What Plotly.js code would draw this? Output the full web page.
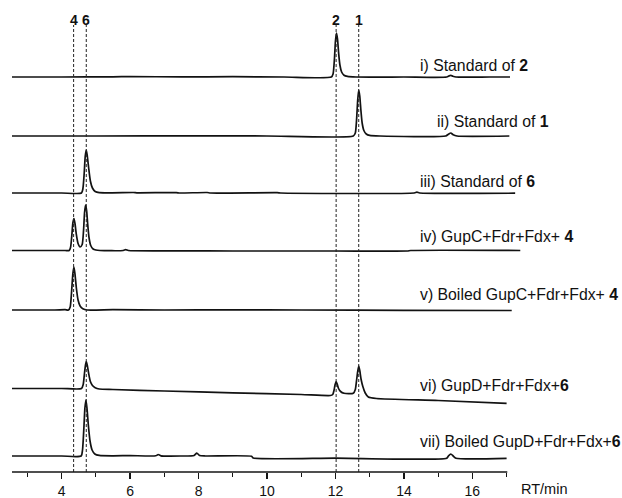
<!DOCTYPE html>
<html>
<head>
<meta charset="utf-8">
<script src="https://cdn.plot.ly/plotly-3.0.1.min.js"></script>
<style>html,body{margin:0;padding:0;background:#fff;}#chart{width:622px;height:498px;}</style>
</head>
<body>
<div id="chart"></div>
<script>
// ---- Data (retention time in min, detector signal in arbitrary units) ----
const rt_i  = [2.55, 4.0, 5.5, 6.0, 7.5, 9.0, 10.5, 11.88, 11.93, 11.97, 12.0, 12.03, 12.06, 12.09, 12.13, 12.18, 12.25, 12.35, 12.6, 14.0, 15.25, 15.32, 15.37, 15.43, 15.52, 16.5, 17.1];
const sig_i = [0, 0, 0.2, 0.4, 0.1, 0.3, 0, 0, 3, 18, 36, 44, 38, 25, 12, 5, 1.8, 0.6, 0, 0, 0, 1.1, 1.6, 0.8, 0, 0, 0];

const rt_ii  = [2.55, 5.0, 8.0, 10.0, 12.52, 12.58, 12.62, 12.65, 12.68, 12.71, 12.74, 12.78, 12.83, 12.9, 13.0, 13.3, 15.22, 15.3, 15.37, 15.44, 15.55, 17.08];
const sig_ii = [0, 0, 0.2, 0, 0, 3, 18, 36, 46, 40, 27, 13, 5.5, 2, 0.6, 0, 0, 1.8, 3, 1.2, 0, 0];

const rt_iii  = [2.55, 4.0, 4.58, 4.62, 4.66, 4.69, 4.72, 4.75, 4.79, 4.84, 4.9, 4.98, 5.1, 6.1, 6.2, 7.35, 7.45, 8.25, 8.35, 10.3, 10.4, 14.3, 14.38, 14.46, 17.25];
const sig_iii = [0, 0, 0, 4, 20, 37, 43, 37, 25, 12, 5, 1.5, 0.3, 0.5, 0.2, 0.4, 0, 0.5, 0, 0.3, 0, 0, 0.8, 0, -0.2];

const rt_iv  = [2.55, 4.1, 4.22, 4.26, 4.3, 4.33, 4.36, 4.39, 4.43, 4.48, 4.54, 4.6, 4.64, 4.67, 4.7, 4.73, 4.76, 4.8, 4.85, 4.92, 5.0, 5.12, 5.8, 5.87, 5.95, 7.5, 9.0, 12.0, 14.1, 14.2, 17.4];
const sig_iv = [0, 0, 0, 3, 16, 28, 32, 27, 16, 7, 3.5, 6, 20, 38, 45.5, 40, 27, 13, 5, 1.5, 0.5, 0, 0, 0.9, 0, -0.3, -0.5, -0.5, -0.5, 0, 0];

const rt_v  = [2.55, 3.8, 4.1, 4.2, 4.25, 4.29, 4.33, 4.36, 4.39, 4.43, 4.48, 4.54, 4.62, 4.75, 5.5, 7.0, 9.0, 11.0, 14.0, 17.15];
const sig_v = [0, 0, 0.3, 0, 3, 18, 37, 43, 36, 22, 10, 4, 1.2, 0, 0.3, 0, 0.2, 0, -0.3, -0.5];

const rt_vi  = [2.55, 4.0, 4.58, 4.63, 4.67, 4.7, 4.72, 4.75, 4.79, 4.84, 4.9, 4.98, 5.1, 5.5, 7.0, 9.0, 11.0, 11.85, 11.92, 11.96, 11.99, 12.02, 12.05, 12.09, 12.15, 12.25, 12.4, 12.52, 12.58, 12.62, 12.65, 12.68, 12.71, 12.75, 12.8, 12.87, 12.96, 13.2, 15.0, 17.0];
const sig_vi = [0, 0, 0, 4, 16, 24, 26.8, 23, 15, 7, 3, 0.8, -0.5, -1, -2.5, -4.3, -6, -7, -6, -1.5, 4, 6.8, 4.5, 0, -3, -4.8, -5.2, -4.8, -1, 9, 17, 22.5, 18, 9, 2, -4.5, -8.5, -10, -12, -14.8];

const rt_vii  = [2.55, 4.0, 4.57, 4.61, 4.65, 4.68, 4.71, 4.74, 4.78, 4.83, 4.89, 4.97, 5.1, 5.5, 6.0, 6.75, 6.82, 6.9, 7.5, 7.87, 7.95, 8.03, 8.2, 9.55, 9.6, 12.0, 15.25, 15.3, 15.37, 15.44, 15.52, 17.0];
const sig_vii = [0, 0, 0, 6, 28, 48, 56, 48, 31, 15, 6, 2, 0.6, 0.2, 0.4, 0.2, 1.5, 0.2, 0, 0.5, 3, 0.5, 0, -0.3, -2, -2.2, -2.2, 0, 2, 0, -2.2, -2.3];

const traceLabels = ['i) Standard of <b>2</b>', 'ii) Standard of <b>1</b>', 'iii) Standard of <b>6</b>',
  'iv) GupC+Fdr+Fdx+ <b>4</b>', 'v) Boiled GupC+Fdr+Fdx+ <b>4</b>', 'vi) GupD+Fdr+Fdx+<b>6</b>',
  'vii) Boiled GupD+Fdr+Fdx+<b>6</b>'];
const markerRT = [4.35, 4.72, 12.02, 12.68];
const markerLabels = ['4', '6', '2', '1'];

// ---- Layout / stacking (not data) ----
const series = [[rt_i, sig_i], [rt_ii, sig_ii], [rt_iii, sig_iii], [rt_iv, sig_iv], [rt_v, sig_v], [rt_vi, sig_vi], [rt_vii, sig_vii]];
const offsets = [395, 336, 279, 221.5, 162, 83.5, 16];
const labelX = [14.41, 14.91, 14.41, 14.41, 14.41, 14.41, 14.41];
const labelY = [407, 350.3, 290.3, 235.3, 177.7, 87, 30.3];
const FONT = 'Liberation Sans, Arial, sans-serif';
const XR = [2.55, 17.45];

const traces = series.map((s, k) => ({
  type: 'scatter', mode: 'lines', x: s[0], y: s[1].map(v => v + offsets[k]),
  line: {color: '#121212', width: 1.7, shape: 'spline', smoothing: 0.6}, hoverinfo: 'skip', showlegend: false
}));

const shapes = markerRT.map(x => ({type: 'line', xref: 'x', yref: 'y', x0: x, x1: x, y0: 0, y1: 447,
  line: {color: '#222', width: 1, dash: '3px,2px'}}));
shapes.push({type: 'line', xref: 'paper', yref: 'paper', x0: 0, x1: (17.02 - XR[0]) / (XR[1] - XR[0]), y0: 0, y1: 0,
  line: {color: '#141414', width: 1.5}});

const annotations = traceLabels.map((t, k) => ({text: t, x: labelX[k], y: labelY[k], xref: 'x', yref: 'y',
  xanchor: 'left', yanchor: 'middle', showarrow: false, font: {family: FONT, size: 15.8, color: '#111'}}));
markerLabels.forEach((t, k) => annotations.push({text: '<b>' + t + '</b>', x: markerRT[k], y: 452.5, xref: 'x', yref: 'y',
  xanchor: 'center', yanchor: 'middle', showarrow: false, font: {family: FONT, size: 14, color: '#111'}}));
annotations.push({text: 'RT/min', xref: 'paper', yref: 'paper', x: 0.997, y: -0.036, xanchor: 'left', yanchor: 'middle',
  borderpad: 0, showarrow: false, font: {family: FONT, size: 14.5, color: '#111'}});

const layout = {
  width: 622, height: 498,
  margin: {l: 12.3, r: 100.1, t: 0, b: 26},
  paper_bgcolor: '#fff', plot_bgcolor: '#fff',
  font: {family: FONT, color: '#111'},
  xaxis: {range: XR, showgrid: false, zeroline: false, showline: false,
    tick0: 4, dtick: 2, ticks: 'outside', ticklen: 6, tickwidth: 1.2, tickcolor: '#141414',
    tickfont: {family: FONT, size: 14, color: '#111'},
    minor: {dtick: 1, ticks: 'outside', ticklen: 3.5, tickwidth: 1.2, tickcolor: '#141414', showgrid: false}},
  yaxis: {range: [0, 472], visible: false, showgrid: false, zeroline: false},
  shapes: shapes, annotations: annotations, showlegend: false
};

Plotly.newPlot('chart', traces, layout, {staticPlot: true, displayModeBar: false});
</script>
</body>
</html>
